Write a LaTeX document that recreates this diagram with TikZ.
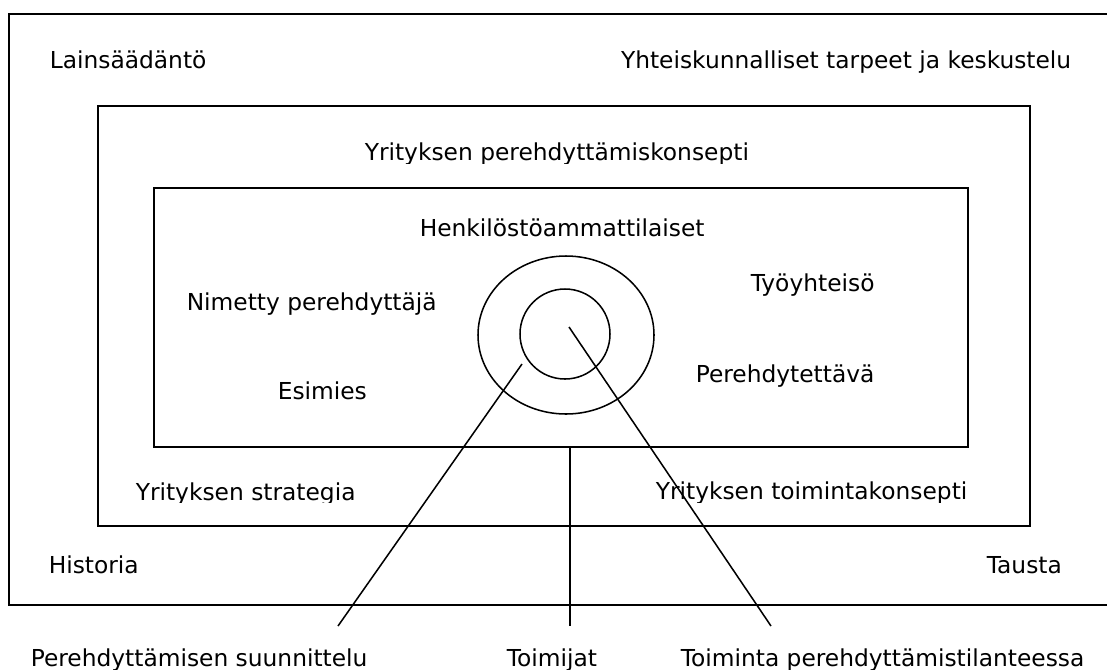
\documentclass[tikz,border=0pt]{standalone}
\usepackage{fontspec}
\setmainfont{DejaVu Sans}
\usetikzlibrary{positioning,shapes.geometric}

\begin{document}
\begin{tikzpicture}[x=0.75pt,y=-0.75pt,line width=1.15pt,
        txt/.style={inner sep=0pt,anchor=base west,font=\fontsize{17.5}{21}\selectfont},
        ring/.style={draw,inner sep=0pt}]

  \useasboundingbox (0,0) rectangle (1107,669);

  \draw[line width=1.5pt] (9,14) rectangle (1112,605);
  \draw (98,106) rectangle (1030,526);
  \draw (154,188) rectangle (968,447);

  \node[ring,ellipse,minimum width=132pt,minimum height=118.5pt] (kehys) at (566,335) {};
  \node[ring,circle,minimum size=67.5pt] (ydin) at (565,334) {};

  \node[txt] (laki) at (49,68) {Lainsäädäntö};
  \node[txt,anchor=base east] (yhteis) at (1072,68) {Yhteiskunnalliset tarpeet ja keskustelu};
  \begin{scope}
    \clip (0,0) rectangle (1107,163);
    \node[txt] (konsepti) at (364,160) {Yrityksen perehdyttämiskonsepti};
  \end{scope}
  \node[txt] (henkilo) at (419,236) {Henkilöstöammattilaiset};
  \node[txt] (nimetty) at (186,310) {Nimetty perehdyttäjä};
  \node[txt] (tyoyht) at (750,291) {Työyhteisö};
  \node[txt] (esimies) at (277,399) {Esimies};
  \node[txt] (perehd) at (695,382) {Perehdytettävä};
  \begin{scope}
    \clip (0,0) rectangle (1107,502);
    \node[txt] (strategia) at (135,500) {Yrityksen strategia};
    \node[txt] (toiminta) at (655,499) {Yrityksen toimintakonsepti};
  \end{scope}
  \node[txt] (historia) at (48,573) {Historia};
  \node[txt] (tausta) at (986,573) {Tausta};
  \node[txt] (suunn) at (30,666) {Perehdyttämisen suunnittelu};
  \node[txt] (toimijat) at (506,666) {Toimijat};
  \node[txt] (tilanne) at (680,666) {Toiminta perehdyttämistilanteessa};

  \coordinate (suA) at (522,364);
  \coordinate (suB) at (338,626);
  \coordinate (toA) at (570,447);
  \coordinate (toB) at (570,626);
  \coordinate (tiA) at (569,327);
  \coordinate (tiB) at (771,626);

  \draw (suA) -- (suB);
  \draw (toA) -- (toB);
  \draw (tiA) -- (tiB);

\end{tikzpicture}
\end{document}
